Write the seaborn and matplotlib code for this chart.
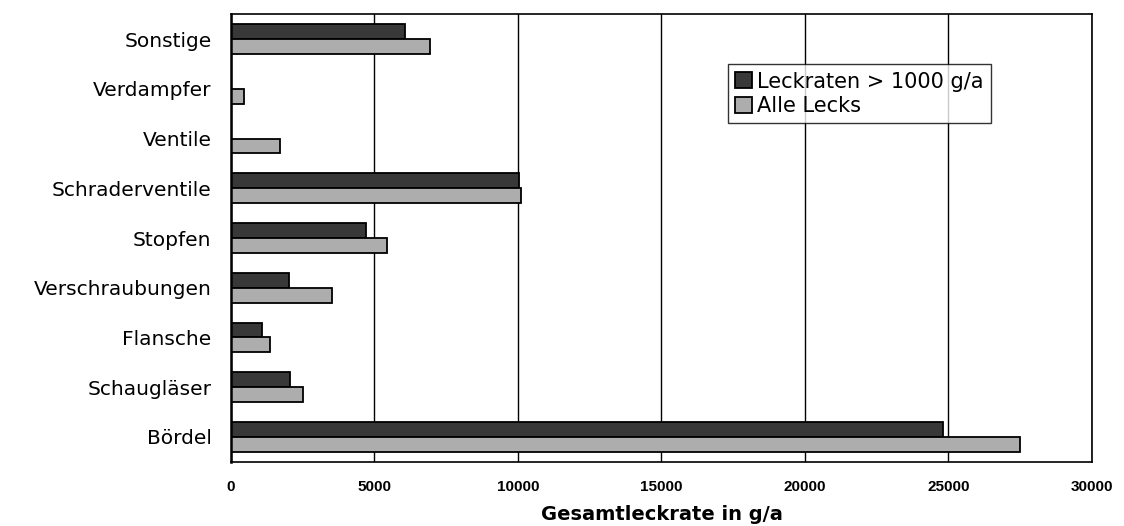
import pandas as pd
import seaborn as sns
import matplotlib.pyplot as plt
import numpy as np

categories = ["Sonstige", "Verdampfer", "Ventile", "Schraderventile", "Stopfen",
              "Verschraubungen", "Flansche", "Schaugläser", "Bördel"]
series = ["Leckraten > 1000 g/a", "Alle Lecks"]
big_leaks = [6050, 0, 0, 10050, 4700, 2020, 1070, 2050, 24800]
all_leaks = [6950, 450, 1720, 10100, 5430, 3520, 1360, 2500, 27500]
xticks = [0, 5000, 10000, 15000, 20000, 25000, 30000]

df = pd.DataFrame({
    "kategorie": categories * 2,
    "serie": [series[0]] * len(categories) + [series[1]] * len(categories),
    "wert": big_leaks + all_leaks,
})

sns.set_style("white")
plt.rcParams['font.family'] = ['Liberation Sans', 'DejaVu Sans']
plt.rcParams['text.color'] = 'black'
plt.rcParams['axes.labelcolor'] = 'black'
plt.rcParams['xtick.color'] = 'black'
plt.rcParams['ytick.color'] = 'black'

wide = ['DejaVu Sans']

fig, ax = plt.subplots(figsize=(11.24, 5.26), dpi=100)
fig.subplots_adjust(left=0.2055, right=0.9715, top=0.973, bottom=0.122)

ax.grid(axis='x', color='black', linewidth=1)
ax.set_axisbelow(True)

sns.barplot(data=df, y="kategorie", x="wert", hue="serie", order=categories,
            hue_order=series, palette=["#383838", "#adadad"], width=0.6,
            edgecolor="black", linewidth=1.3, saturation=1, ax=ax, legend=True)

ax.set_xlim(0, 30000)
ax.set_xticks(xticks)
ax.set_xticklabels([str(t) for t in xticks], fontsize=11, fontweight='bold')
ax.set_xlabel("Gesamtleckrate in g/a", fontsize=14, fontweight='bold',
              family=wide, labelpad=8)
ax.set_ylabel("")
ax.set_yticks(range(len(categories)))
ax.set_yticklabels(categories, family=wide, fontsize=14.5)
ax.tick_params(axis='y', which='major', length=0, pad=14)
ax.set_yticks(np.arange(-0.5, len(categories), 1.0), minor=True)
ax.tick_params(axis='y', which='minor', length=5, direction='out', width=1)
ax.tick_params(axis='x', which='major', length=5, direction='out', width=1, pad=8)

for s in ax.spines.values():
    s.set_color('black')
    s.set_linewidth(1.2)
ax.spines['left'].set_linewidth(1.8)

leg = ax.legend(loc='upper left', bbox_to_anchor=(0.577, 0.888),
                prop={'family': wide, 'size': 15},
                frameon=True, fancybox=False, edgecolor='black',
                handlelength=0.8, handleheight=0.8, handletextpad=0.25,
                borderpad=0.35, labelspacing=0.2, borderaxespad=0)
leg.get_frame().set_linewidth(1)

plt.savefig("out.png", dpi=100)
